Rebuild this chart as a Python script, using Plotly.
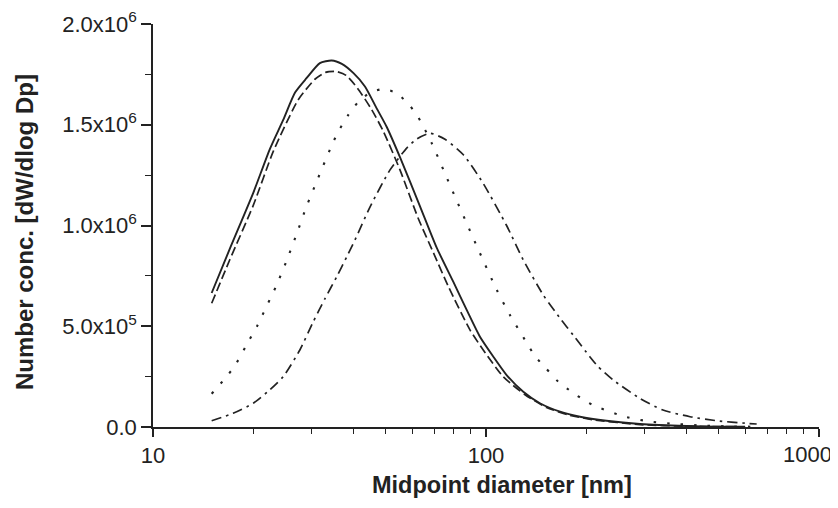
import plotly.graph_objects as go

# Diameters [nm] and number concentration (in units of 1e6)
d_solid = [15, 17, 20, 22.4, 24.6, 26.7, 28.9, 31.7, 34.4, 36.9, 40, 43.3, 47, 50.3, 55.2, 63.4,
           71.1, 79.8, 87.5, 95.9, 105.2, 115.3, 129.4, 145.2, 166.9, 191.6, 230, 290, 400, 500, 600]
v_solid = [0.665, 0.884, 1.162, 1.377, 1.524, 1.660, 1.731, 1.806, 1.819, 1.802, 1.756, 1.690,
           1.580, 1.490, 1.338, 1.094, 0.890, 0.720, 0.581, 0.448, 0.349, 0.258, 0.175, 0.118,
           0.076, 0.051, 0.031, 0.015, 0.005, 0.002, 0.001]

d_dash = [15, 17, 20, 23, 27.3, 30.7, 33, 35.6, 38, 41.1, 45.4, 49.2, 55.2, 62.6, 69.5, 77.1,
          89.5, 99.3, 112.6, 131, 152, 178.6, 210, 290, 400, 600]
v_dash = [0.614, 0.83, 1.10, 1.37, 1.624, 1.727, 1.760, 1.764, 1.745, 1.682, 1.574, 1.466, 1.275,
          1.035, 0.865, 0.697, 0.482, 0.370, 0.250, 0.160, 0.097, 0.058, 0.036, 0.012, 0.004,
          0.001]

d_dot = [15, 16.4, 17.6, 19.5, 20.6, 22.4, 23.4, 25.2, 27.0, 28.9, 31.0, 34.8, 36.5, 38.6, 41.4,
         44.9, 49.2, 53.9, 59.1, 62.6, 68.7, 74.5, 80.7, 87.5, 94.8, 107.6, 118, 131.8, 140.3,
         151.4, 164.8, 180.7, 200, 217, 261, 314, 373, 450, 550, 650]
v_dot = [0.165, 0.238, 0.303, 0.435, 0.505, 0.631, 0.697, 0.826, 0.958, 1.094, 1.218, 1.416,
         1.483, 1.549, 1.615, 1.660, 1.677, 1.657, 1.594, 1.537, 1.409, 1.276, 1.143, 1.011,
         0.881, 0.682, 0.556, 0.424, 0.352, 0.291, 0.225, 0.175, 0.126, 0.098, 0.051, 0.026,
         0.015, 0.007, 0.003, 0.001]

d_dashdot = [15, 17.4, 20, 22.4, 24.6, 27.6, 30.3, 32.9, 35.6, 38.2, 40.4, 44.9, 51.5, 57.8, 62,
             67.9, 75.3, 85.5, 98, 115.3, 129.4, 148.6, 166.9, 174.6, 183, 205, 217, 241, 290,
             340, 410, 493, 607, 650]
v_dashdot = [0.031, 0.068, 0.118, 0.184, 0.250, 0.382, 0.523, 0.640, 0.745, 0.846, 0.928, 1.094,
             1.276, 1.384, 1.430, 1.458, 1.428, 1.351, 1.210, 1.000, 0.829, 0.655, 0.540, 0.498,
             0.455, 0.349, 0.300, 0.233, 0.142, 0.084, 0.051, 0.031, 0.018, 0.015]

y_tickvals = [0, 0.5, 1.0, 1.5, 2.0]
y_ticktext = ["0.0", "5.0x10<sup>5</sup>", "1.0x10<sup>6</sup>", "1.5x10<sup>6</sup>",
              "2.0x10<sup>6</sup>"]
x_tickvals = [10, 100, 1000]
x_ticktext = ["10", "100", ""]          # "1000" is drawn separately so it fits at the right edge
x_last_label = "1000"
x_title = "Midpoint diameter [nm]"
y_title = "Number conc. [dW/dlog Dp]"

INK = "#222222"
series = [
    (d_solid, v_solid, "solid", 1.9),
    (d_dash, v_dash, "9px,4px", 1.7),
    (d_dot, v_dot, "2.5px,11px", 2.1),
    (d_dashdot, v_dashdot, "10px,5px,2.5px,5px", 1.7),
]

fig = go.Figure()
for xs, ys, dash, w in series:
    fig.add_trace(go.Scatter(x=xs, y=ys, mode="lines",
                             line=dict(color=INK, width=w, dash=dash, shape="spline", smoothing=0.6),
                             showlegend=False, hoverinfo="skip"))

# The page body has an 8px margin, so the figure is sized to fit inside the window.
fig.update_layout(
    width=830, height=492,
    margin=dict(l=145, r=19, t=16, b=73),
    paper_bgcolor="white", plot_bgcolor="white",
    font=dict(family="Liberation Sans, Arial, sans-serif", color=INK, size=22),
)
fig.update_xaxes(
    type="log", range=[0.9999, 3.0001], automargin=False,
    tickvals=x_tickvals, ticktext=x_ticktext,
    ticks="outside", ticklen=8, tickwidth=1.5, tickcolor=INK,
    minor=dict(ticks="outside", ticklen=5, tickwidth=1.2, tickcolor=INK, dtick="D1", showgrid=False),
    showline=True, linecolor=INK, linewidth=1.5,
    showgrid=False, zeroline=False,
    tickfont=dict(size=22),
)
fig.update_yaxes(
    range=[0, 2.0], automargin=False,
    tickvals=y_tickvals, ticktext=y_ticktext,
    ticks="outside", ticklen=10, tickwidth=1.5, tickcolor=INK,
    minor=dict(ticks="outside", ticklen=6, tickwidth=1.2, tickcolor=INK, dtick=0.25, showgrid=False),
    showline=True, linecolor=INK, linewidth=1.5,
    showgrid=False, zeroline=False,
    tickfont=dict(size=22),
)
fig.add_annotation(text=x_last_label, xref="paper", yref="paper",
                   x=1.0, y=-0.067, xanchor="right", yanchor="middle", xshift=15,
                   showarrow=False, font=dict(size=22, color=INK))
fig.add_annotation(text="<b>" + x_title + "</b>", xref="paper", yref="paper",
                   x=0.524, y=-0.144, xanchor="center", yanchor="middle",
                   showarrow=False, font=dict(size=23.5, color=INK))
fig.add_annotation(text="<b>" + y_title + "</b>", xref="paper", yref="paper",
                   x=-0.192, y=0.484, xanchor="center", yanchor="middle", textangle=-90,
                   showarrow=False, font=dict(size=24, color=INK))

fig.write_html("out.html")
